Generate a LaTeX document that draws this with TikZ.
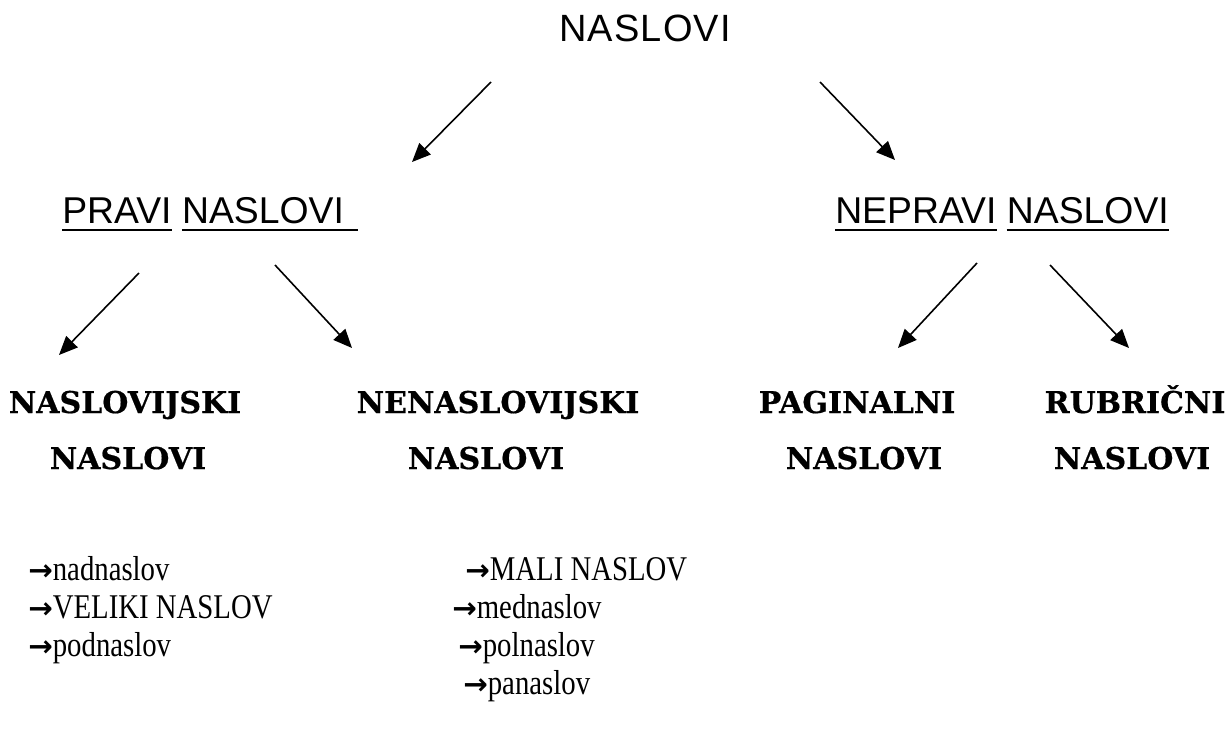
\documentclass[tikz,border=0pt]{standalone}
\usepackage{fontspec}
\setmainfont{Liberation Serif}
\newfontfamily\titlefont[LetterSpace=3]{Liberation Sans}
\newfontfamily\headfont{Liberation Sans}
\newfontfamily\catfont[FakeBold=0.6]{DejaVu Serif}
\newfontfamily\listfont[FakeStretch=0.83]{Liberation Serif}
\newfontfamily\arrfont{DejaVu Sans}
\usetikzlibrary{arrows.meta,calc}
\newcommand\itemarrow{{\arrfont\bfseries\fontsize{22}{26}\selectfont →}}
\begin{document}
\begin{tikzpicture}[x=0.75pt,y=-0.75pt,
  arr/.style={line width=1.2pt,-{Triangle[length=14pt,width=12pt]}},
  titlestyle/.style={font=\titlefont\fontsize{28.5}{34}\selectfont,inner sep=0pt,anchor=base},
  headstyle/.style={font=\headfont\fontsize{28}{34}\selectfont,inner sep=0pt,anchor=base west},
  catstyle/.style={font=\catfont\bfseries\fontsize{22.5}{27}\selectfont,inner sep=0pt,anchor=base},
  itemstyle/.style={font=\listfont\fontsize{26}{31}\selectfont,inner sep=0pt,anchor=base west},
  ul/.style={line width=2.2pt}]
\useasboundingbox (0,0) rectangle (1231,751);

% title
\node[titlestyle] (title) at (645,41) {NASLOVI};

% level 1 headings
\node[headstyle] (p1) at (62,223) {PRAVI};
\node[headstyle] (p2) at ($(p1.base east)+(10,0)$) {NASLOVI};
\node[headstyle] (n1) at (835,223) {NEPRAVI};
\node[headstyle] (n2) at ($(n1.base east)+(10,0)$) {NASLOVI};
\draw[ul] ($(p1.base west)+(0,7)$) -- ($(p1.base east)+(0,7)$);
\draw[ul] ($(p2.base west)+(0,7)$) -- ($(p2.base east)+(14,7)$);
\draw[ul] ($(n1.base west)+(0,7)$) -- ($(n1.base east)+(0,7)$);
\draw[ul] ($(n2.base west)+(0,7)$) -- ($(n2.base east)+(0,7)$);

% arrows level 1
\coordinate (a1s) at (491,82);  \coordinate (a1e) at (412,162);
\coordinate (a2s) at (820,82);  \coordinate (a2e) at (895,160);
\draw[arr] (a1s) -- (a1e);
\draw[arr] (a2s) -- (a2e);

% arrows level 2
\coordinate (a3s) at (139,273); \coordinate (a3e) at (59,355);
\coordinate (a4s) at (275,265); \coordinate (a4e) at (352,348);
\coordinate (a5s) at (977,263); \coordinate (a5e) at (898,348);
\coordinate (a6s) at (1050,265); \coordinate (a6e) at (1129,348);
\draw[arr] (a3s) -- (a3e);
\draw[arr] (a4s) -- (a4e);
\draw[arr] (a5s) -- (a5e);
\draw[arr] (a6s) -- (a6e);

% categories
\node[catstyle] (c1a) at (125,413) {NASLOVIJSKI};
\node[catstyle] (c1b) at (128,469) {NASLOVI};
\node[catstyle] (c2a) at (498,413) {NENASLOVIJSKI};
\node[catstyle] (c2b) at (486,469) {NASLOVI};
\node[catstyle] (c3a) at (857,413) {PAGINALNI};
\node[catstyle] (c3b) at (864,469) {NASLOVI};
\node[catstyle] (c4a) at (1135,413) {RUBRIČNI};
\node[catstyle] (c4b) at (1132,469) {NASLOVI};

% lists
\node[itemstyle] (l1) at (28,580) {\itemarrow nadnaslov};
\node[itemstyle] (l2) at (28,618) {\itemarrow VELIKI NASLOV};
\node[itemstyle] (l3) at (28,656) {\itemarrow podnaslov};
\node[itemstyle] (r1) at (465,580) {\itemarrow MALI NASLOV};
\node[itemstyle] (r2) at (452,618) {\itemarrow mednaslov};
\node[itemstyle] (r3) at (458,656) {\itemarrow polnaslov};
\node[itemstyle] (r4) at (463,694) {\itemarrow panaslov};
\end{tikzpicture}
\end{document}
